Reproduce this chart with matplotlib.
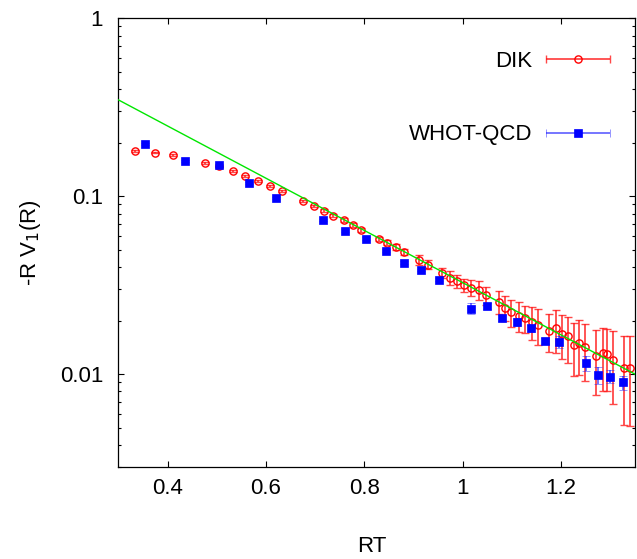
import numpy as np
import matplotlib
matplotlib.use("Agg")
import matplotlib.pyplot as plt
from matplotlib.container import ErrorbarContainer
from matplotlib.legend_handler import HandlerErrorbar
from matplotlib.ticker import FuncFormatter, MultipleLocator, NullFormatter


WIDTH_PX = 637
HEIGHT_PX = 559
DPI = 100

# DIK data points (RT, -R V1(R), error)
dik_rt = [0.333, 0.374, 0.411, 0.476, 0.504, 0.533, 0.558, 0.584, 0.609, 0.632,
          0.675, 0.697, 0.717, 0.737, 0.758, 0.776, 0.794, 0.830, 0.846, 0.864,
          0.880, 0.912, 0.929, 0.958, 0.974, 0.988, 1.003, 1.017, 1.033, 1.047,
          1.074, 1.085, 1.099, 1.114, 1.126, 1.140, 1.152, 1.176, 1.189, 1.201,
          1.214, 1.226, 1.237, 1.249, 1.271, 1.284, 1.294, 1.306, 1.328, 1.339]
dik_val = [0.179, 0.176, 0.170, 0.154, 0.147, 0.138, 0.130, 0.122, 0.114, 0.107,
           0.0941, 0.0882, 0.0830, 0.0778, 0.0733, 0.0692, 0.0646, 0.0576, 0.0549, 0.0517,
           0.0487, 0.0439, 0.0413, 0.0371, 0.0348, 0.0332, 0.0317, 0.0307, 0.0296, 0.0277,
           0.0256, 0.0237, 0.0223, 0.0213, 0.0206, 0.0197, 0.0189, 0.0175, 0.0181, 0.0168,
           0.0163, 0.0146, 0.0150, 0.0142, 0.0127, 0.0132, 0.0130, 0.0121, 0.0108, 0.0108]
dik_err = [0.0018, 0.0018, 0.0018, 0.0018, 0.0018, 0.0018, 0.0018, 0.0018, 0.0018, 0.0018,
           0.0018, 0.0017, 0.0018, 0.0017, 0.0019, 0.0018, 0.0017, 0.0018, 0.0018, 0.0020,
           0.0019, 0.0028, 0.0024, 0.0024, 0.0030, 0.0027, 0.0028, 0.0033, 0.0036, 0.0032,
           0.0037, 0.0039, 0.0039, 0.0041, 0.0036, 0.0042, 0.0043, 0.0042, 0.0050, 0.0046,
           0.0047, 0.0048, 0.0051, 0.0050, 0.0051, 0.0051, 0.0049, 0.0053, 0.0056, 0.0057]

# WHOT-QCD data points
whot_rt = [0.354, 0.436, 0.504, 0.565, 0.620, 0.716, 0.761, 0.803, 0.843, 0.881,
           0.915, 0.952, 1.017, 1.050, 1.080, 1.111, 1.139, 1.168, 1.196, 1.250,
           1.274, 1.300, 1.325]
whot_val = [0.1975, 0.158, 0.149, 0.119, 0.0982, 0.0739, 0.0641, 0.0578, 0.0495, 0.0424,
            0.0385, 0.0339, 0.0234, 0.0242, 0.0208, 0.0197, 0.0181, 0.0154, 0.0152, 0.0115,
            0.0099, 0.0097, 0.0090]
whot_err = [0.0030, 0.0025, 0.0022, 0.0018, 0.0015, 0.0011, 0.0010, 0.0009, 0.0008, 0.0008,
            0.0007, 0.0007, 0.0017, 0.0010, 0.0008, 0.0010, 0.0008, 0.0006, 0.0012, 0.0011,
            0.0011, 0.0008, 0.0008]

# exponential fit shown as the green line: A * exp(-m * RT)
FIT_AMP = 0.96
FIT_SLOPE = 3.38

X_RANGE = (0.3, 1.35)
Y_RANGE = (0.003, 1.0)

DIK_STYLE = dict(fmt="o", ms=5.2, mfc="none", mec="red", mew=1.0,
                 ecolor=(1.0, 0.1, 0.1, 0.8), elinewidth=1.3, capsize=3.2, capthick=1.2)
WHOT_STYLE = dict(fmt="s", ms=6.0, mfc="blue", mec="blue", mew=0.5,
                  ecolor=(0.1, 0.1, 1.0, 0.65), elinewidth=1.3, capsize=3.2, capthick=1.2)


def px_rect(x0, y0, x1, y1):
    # pixel box (top-left origin) to figure fraction rect
    return [x0 / WIDTH_PX, 1 - y1 / HEIGHT_PX, (x1 - x0) / WIDTH_PX, (y1 - y0) / HEIGHT_PX]


def main():
    plt.rcParams["font.family"] = ["Liberation Sans", "DejaVu Sans"]
    fig = plt.figure(figsize=(WIDTH_PX / DPI, HEIGHT_PX / DPI), dpi=DPI)
    ax = fig.add_axes(px_rect(118.3, 18.3, 635, 467.3))

    ax.errorbar(dik_rt, dik_val, yerr=dik_err, zorder=2, **DIK_STYLE)
    xs = np.linspace(X_RANGE[0], X_RANGE[1], 50)
    ax.plot(xs, FIT_AMP * np.exp(-FIT_SLOPE * xs), color="#00e600", lw=1.0, zorder=3)
    ax.errorbar(whot_rt, whot_val, yerr=whot_err, zorder=4, **WHOT_STYLE)

    # proxies with horizontal bars, so the legend shows gnuplot-like keys
    dik_key = ax.errorbar([np.nan], [np.nan], xerr=[0.0], **DIK_STYLE)
    whot_key = ax.errorbar([np.nan], [np.nan], xerr=[0.0], **WHOT_STYLE)

    ax.set_yscale("log")
    ax.set_xlim(*X_RANGE)
    ax.set_ylim(*Y_RANGE)

    ax.xaxis.set_major_locator(MultipleLocator(0.2))
    ax.xaxis.set_major_formatter(FuncFormatter(lambda v, _: f"{v:g}"))
    ax.yaxis.set_major_formatter(FuncFormatter(lambda v, _: f"{v:g}"))
    ax.yaxis.set_minor_formatter(NullFormatter())
    ax.tick_params(which="both", direction="in", top=True, right=True,
                   labelsize=16, width=0.8)
    ax.tick_params(which="major", length=4.5)
    ax.tick_params(which="minor", length=2.3)
    ax.tick_params(axis="x", pad=8)
    ax.tick_params(axis="y", pad=11)
    for spine in ax.spines.values():
        spine.set_linewidth(0.9)

    ax.set_xlabel("RT", fontsize=16)
    ax.set_ylabel("-R V$_1$(R)", fontsize=16)
    ax.xaxis.set_label_coords(0.49, -0.152)
    ax.yaxis.set_label_coords(-0.146, 0.5)

    hl = 2.9
    ax.legend(
        [dik_key, whot_key],
        ["DIK", "WHOT-QCD"],
        handler_map={ErrorbarContainer: HandlerErrorbar(xerr_size=hl / 2)},
        loc="upper right",
        bbox_to_anchor=(0.9516, 0.928),
        frameon=False,
        markerfirst=False,
        numpoints=1,
        handlelength=hl,
        handletextpad=0.6,
        labelspacing=2.37,
        borderpad=0,
        borderaxespad=0,
        fontsize=16,
    )

    fig.savefig("out.png", dpi=DPI)
    plt.close(fig)


if __name__ == "__main__":
    main()
